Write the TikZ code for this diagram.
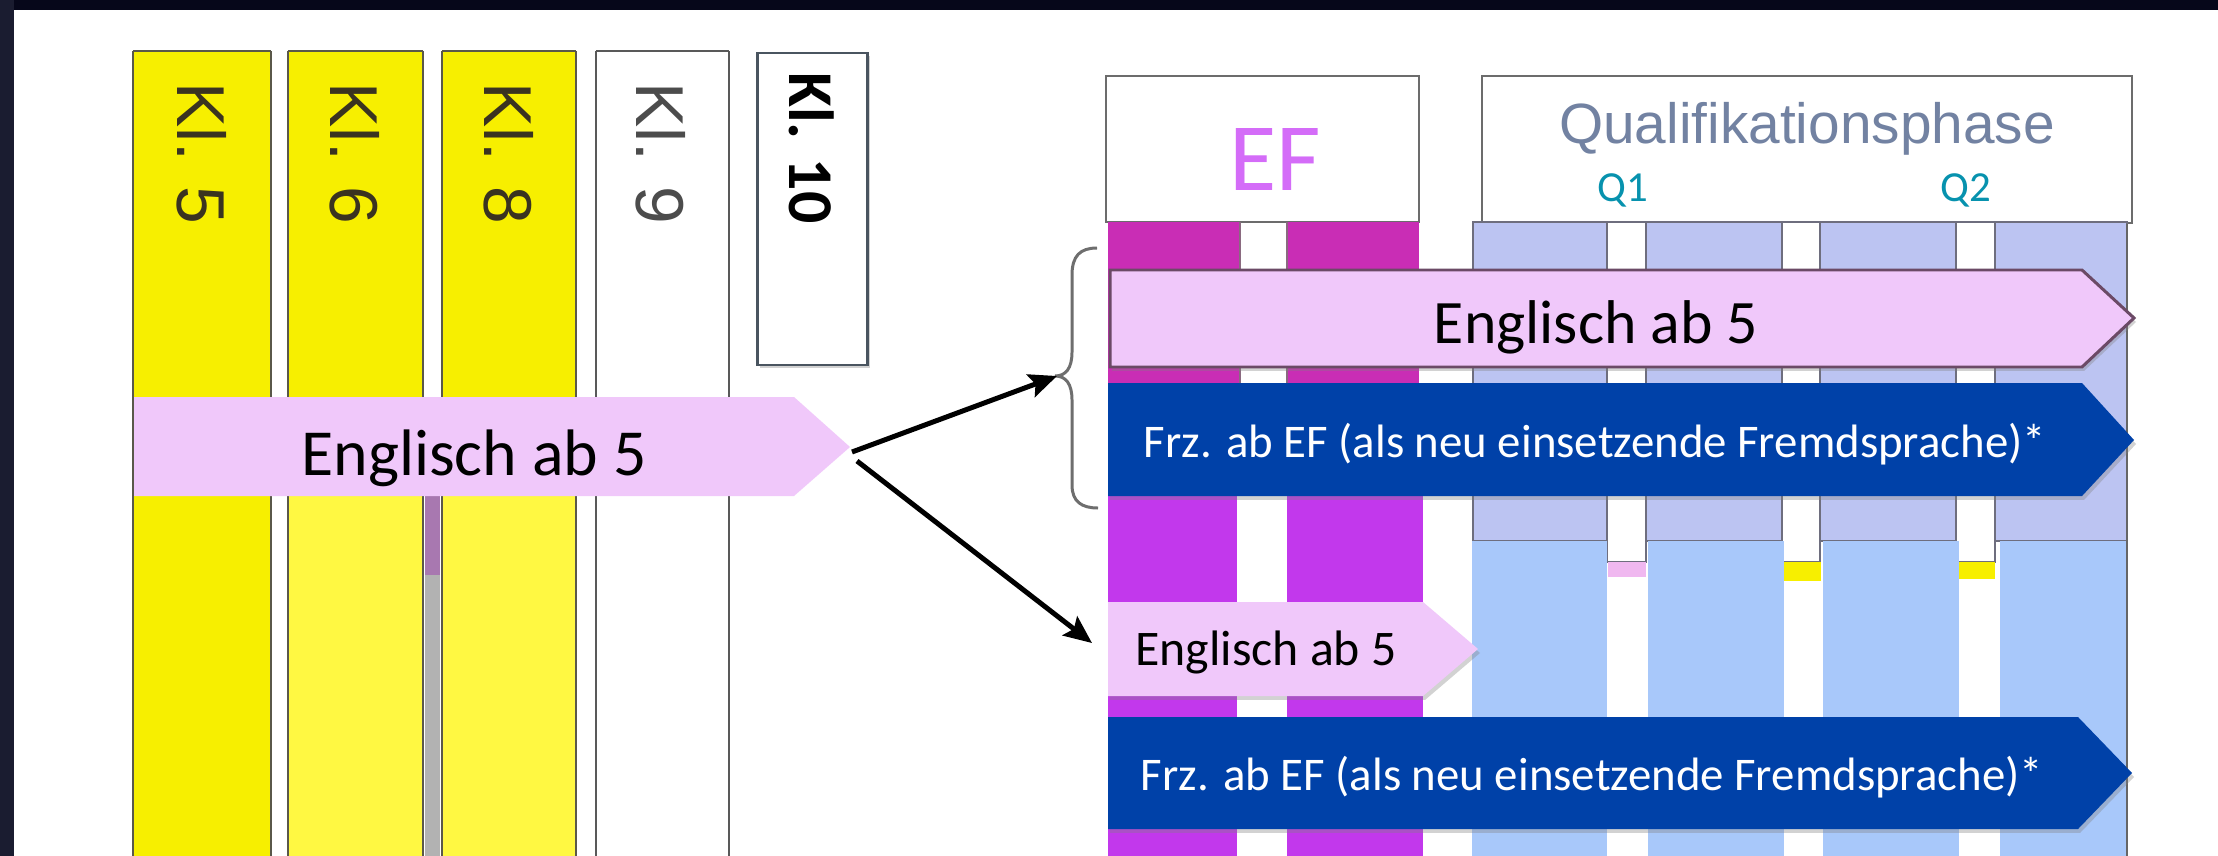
\documentclass[tikz,border=0pt]{standalone}
\usepackage{fontspec}
\setmainfont{Carlito}
\newfontfamily\helv{Liberation Sans}
\usetikzlibrary{arrows.meta,shadows}
\definecolor{frameL}{HTML}{1A1C30}
\definecolor{frameT}{HTML}{06071A}
\definecolor{yelA}{HTML}{F7EF00}
\definecolor{yelB}{HTML}{FFF842}
\definecolor{klborder}{HTML}{5A584A}
\definecolor{kltext}{HTML}{3A3320}
\definecolor{kltenborder}{HTML}{4A5560}
\definecolor{gapP}{HTML}{A878B0}
\definecolor{markP}{HTML}{F0B8F0}
\definecolor{gridM}{HTML}{8A6A80}
\definecolor{pinkA}{HTML}{F0C8FA}
\definecolor{pinkEdge}{HTML}{6B4A66}
\definecolor{blueA}{HTML}{0041A8}
\definecolor{magA}{HTML}{C92DB5}
\definecolor{purA}{HTML}{C238EC}
\definecolor{lavA}{HTML}{BCC4F2}
\definecolor{lbA}{HTML}{A8C8FA}
\definecolor{efcol}{HTML}{D46CF8}
\definecolor{qcol}{HTML}{0792AE}
\definecolor{qualcol}{HTML}{7282A2}
\definecolor{gridline}{HTML}{6E6E7E}
\definecolor{bracecol}{HTML}{6E6E6E}
\tikzset{
  klcol/.style={draw=klborder, line width=2.5pt},
  kllabel/.style={rotate=-90, inner sep=0pt, anchor=base west, text=kltext, font=\helv\fontsize{68}{68}\selectfont},
  boxline/.style={draw=gray!85!black, line width=2.5pt},
  gridbox/.style={draw=gridline, line width=2pt},
  arrowshadow/.style={drop shadow={shadow xshift=2pt, shadow yshift=-4pt, opacity=0.35}},
  bigtxt/.style={inner sep=0pt, anchor=base, font=\fontsize{64}{64}\selectfont},
  frztxt/.style={inner sep=0pt, anchor=base, text=white, font=\fontsize{47}{47}\selectfont},
  linkarrow/.style={draw=black, line width=5pt, -{Stealth[length=28pt,width=24pt,inset=5pt]}},
}
\begin{document}
\begin{tikzpicture}[x=1bp,y=-1bp]
\useasboundingbox (0,0) rectangle (2218,855);
\fill[white] (-10,-10) rectangle (2240,870);
\fill[frameT] (-10,-10) rectangle (2240,10);
\fill[frameL] (-10,-10) rectangle (14,870);

% ---- left columns ----
\fill[yelA] (133,51) rectangle (271,870);
\draw[klcol] (133,51) -- (271,51) (133,51) -- (133,870) (271,51) -- (271,870);
\fill[yelB] (288,51) rectangle (423,870);
\fill[yelA] (288,51) rectangle (423,440);
\draw[klcol] (288,51) -- (423,51) (288,51) -- (288,870) (423,51) -- (423,870);
\fill[yelB] (442,51) rectangle (576,870);
\fill[yelA] (442,51) rectangle (576,440);
\draw[klcol] (442,51) -- (576,51) (442,51) -- (442,870) (576,51) -- (576,870);
\fill[gray!60] (425,496) rectangle (440,870);
\fill[gapP] (425,496) rectangle (440,575);
\fill[white] (596,51) rectangle (729,870);
\draw[klcol, draw=gray!70!black] (596,51) -- (729,51) (596,51) -- (596,870) (729,51) -- (729,870);
\path[fill=white, draw=kltenborder, line width=3pt, drop shadow={shadow xshift=3pt, shadow yshift=-3pt, opacity=0.35}] (757,53) rectangle (867,365);

\node[kllabel] (kl5) at (177,82) {Kl. 5};
\node[kllabel] (kl6) at (330,82) {Kl. 6};
\node[kllabel] (kl8) at (484,82) {Kl. 8};
\node[kllabel, text=gray!60!black] (kl9) at (636,82) {Kl. 9};
\node[kllabel, text=black, font=\bfseries\fontsize{64}{64}\selectfont] (kl10) at (789,72) {Kl. 10};

% ---- left pink arrow ----
\fill[pinkA] (134,397) -- (794,397) -- (850,447) -- (794,496) -- (134,496) -- cycle;
\node[bigtxt, font=\fontsize{66}{66}\selectfont] (engL) at (474,475) {Englisch ab 5};
\coordinate (a1s) at (852,452);
\coordinate (a2s) at (857,461);

% ---- header boxes ----
\draw[boxline] (1106,76) rectangle (1419,222);
\draw[boxline] (1482,76) rectangle (2132,223);
\node[inner sep=0pt, anchor=base, text=efcol, font=\fontsize{97}{97}\selectfont] (ef) at (1275,190) {EF};
\node[inner sep=0pt, anchor=base, text=qualcol, font=\helv\fontsize{57}{57}\selectfont] (qual) at (1807,143) {Qualifikationsphase};
\node[inner sep=0pt, anchor=base, text=qcol, font=\fontsize{43}{43}\selectfont] (q1) at (1623,201) {Q1};
\node[inner sep=0pt, anchor=base, text=qcol, font=\fontsize{43}{43}\selectfont] (q2) at (1966,201) {Q2};

% ---- background grid (upper) ----
\fill[magA] (1108,222) rectangle (1240,496);
\fill[magA] (1287,222) rectangle (1419,496);
\draw[gridbox, draw=gridM] (1240,222) -- (1240,496) (1287,222) -- (1287,496);
\foreach \a/\b in {1473/1607,1646/1782,1820/1956,1995/2127}{
  \fill[lavA] (\a,222) rectangle (\b,541);
  \draw[gridbox] (\a,222) rectangle (\b,541);
}
\foreach \a/\b in {1607/1646,1782/1820,1956/1995}{
  \draw[gridbox, fill=white] (\a,222) rectangle (\b,562);
}
\fill[markP] (1608,562) rectangle (1646,577);
\fill[yelA] (1783,562) rectangle (1821,581);
\fill[yelA] (1957,562) rectangle (1995,579);
\fill[white] (1607,577) rectangle (1648,870);
\fill[white] (1782,581) rectangle (1823,870);
\fill[white] (1956,579) rectangle (2000,870);

% ---- background grid (lower) ----
\fill[purA] (1108,496) rectangle (1237,870);
\fill[purA] (1287,493) rectangle (1423,870);
\fill[white] (1423,513) rectangle (1472,870);
\foreach \a/\b in {1472/1607,1648/1784,1823/1959,2000/2127}{
  \fill[lbA] (\a,541) rectangle (\b,870);
}
\draw[gridbox, draw=gray!80!black, line width=2.5pt] (2127,224) -- (2127,870);

% ---- arrows on the right ----
\path[fill=pinkA, draw=pinkEdge, line width=3pt, arrowshadow] (1110,270) -- (2082,270) -- (2134,318) -- (2082,367) -- (1110,367) -- cycle;
\node[bigtxt, font=\fontsize{62}{62}\selectfont] (engR) at (1596,343) {Englisch ab 5};
\path[fill=blueA, arrowshadow] (1108,383) -- (2082,383) -- (2134,440) -- (2082,496) -- (1108,496) -- cycle;
\node[frztxt] (frz1) at (1595,457) {Frz. ab EF (als neu einsetzende Fremdsprache)*};
\path[fill=pinkA, arrowshadow] (1108,602) -- (1423,602) -- (1478,649) -- (1423,696) -- (1108,696) -- cycle;
\node[inner sep=0pt, anchor=base, font=\fontsize{50}{50}\selectfont] (engS) at (1266,665) {Englisch ab 5};
\path[fill=blueA, arrowshadow] (1108,717) -- (2078,717) -- (2132,773) -- (2078,829) -- (1108,829) -- cycle;
\node[frztxt] (frz2) at (1592,790) {Frz. ab EF (als neu einsetzende Fremdsprache)*};

% ---- brace and links ----
\draw[draw=bracecol, line width=3pt] (1097,248) .. controls (1080,248) and (1072,256) .. (1072,275) -- (1072,352) .. controls (1072,368) and (1066,376) .. (1055,376) .. controls (1066,376) and (1072,384) .. (1072,400) -- (1072,485) .. controls (1072,502) and (1082,508) .. (1098,508);
\coordinate (bracetip) at (1057,376);
\coordinate (a2e) at (1092,643);
\draw[linkarrow] (a1s) -- (bracetip);
\draw[linkarrow] (a2s) -- (a2e);
\end{tikzpicture}
\end{document}
